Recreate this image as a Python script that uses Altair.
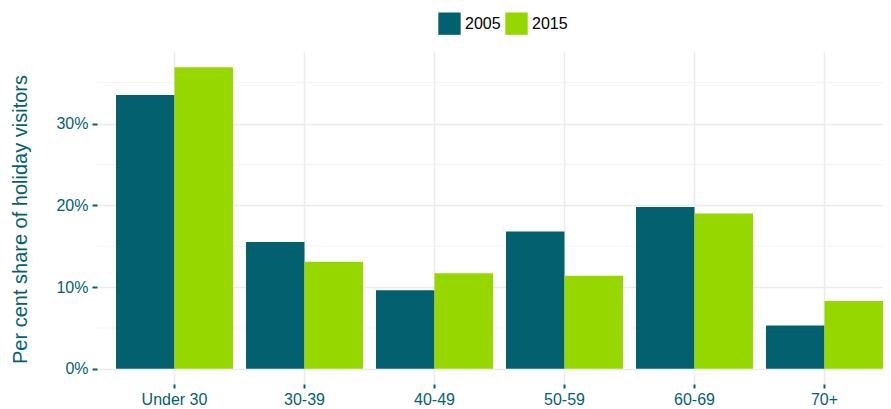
import altair as alt
import pandas as pd

age_groups = ["Under 30", "30-39", "40-49", "50-59", "60-69", "70+"]
share_2005 = [33.5, 15.5, 9.6, 16.8, 19.8, 5.3]
share_2015 = [36.9, 13.1, 11.7, 11.4, 19.0, 8.3]
years = ["2005", "2015"]
y_major = [0, 10, 20, 30]
y_minor = [5, 15, 25, 35]

TEAL = "#03616F"
GREEN = "#97D700"
FONT = "Liberation Sans"

rows = []
for i, a in enumerate(age_groups):
    rows.append({"age": a, "year": years[0], "share": share_2005[i]})
    rows.append({"age": a, "year": years[1], "share": share_2015[i]})
df = pd.DataFrame(rows)

y_scale = alt.Scale(domain=[-1.85, 38.75], nice=False, zero=False)

y_axis = alt.Axis(
    values=y_major,
    labelExpr="datum.value + '%'",
    labelColor=TEAL,
    labelFont=FONT,
    labelFontSize=16,
    labelPadding=4,
    tickColor=TEAL,
    tickSize=5,
    tickWidth=2,
    domain=False,
    grid=True,
    gridColor="#EBEBEB",
    gridWidth=1.5,
    title="Per cent share of holiday visitors",
    titleColor=TEAL,
    titleFont=FONT,
    titleFontSize=20,
    titleFontWeight="normal",
    titleAngle=-90,
    titleBaseline="alphabetic",
    titleAlign="center",
    titleX=-70.5,
    titleY=167,
)

minor = alt.Chart(pd.DataFrame({"v": y_minor})).mark_rule(
    color="#F3F3F3", strokeWidth=1
).encode(y=alt.Y("v:Q", scale=y_scale, axis=y_axis))

bars = alt.Chart(df).mark_bar().encode(
    x=alt.X(
        "age:N",
        sort=age_groups,
        scale=alt.Scale(paddingInner=0.1, paddingOuter=0.073, align=1),
        axis=alt.Axis(
            title=None,
            labelAngle=0,
            labelColor=TEAL,
            labelFont=FONT,
            labelFontSize=16,
            labelPadding=3,
            tickColor=TEAL,
            tickSize=4,
            tickWidth=2,
            domain=False,
            grid=True,
            gridColor="#EBEBEB",
            gridWidth=1.5,
            bandPosition=0.5,
        ),
    ),
    xOffset=alt.XOffset("year:N", sort=years, scale=alt.Scale(paddingInner=0, paddingOuter=0)),
    y=alt.Y("share:Q", scale=y_scale, axis=y_axis),
    y2=alt.datum(0),
    color=alt.Color(
        "year:N",
        sort=years,
        scale=alt.Scale(domain=years, range=[TEAL, GREEN]),
        legend=alt.Legend(
            title=None,
            orient="none",
            legendX=341,
            legendY=-40,
            direction="horizontal",
            symbolType="square",
            symbolSize=500,
            symbolStrokeWidth=0,
            symbolOpacity=1,
            labelFont=FONT,
            labelFontSize=16,
            labelColor="black",
            labelOffset=4,
            columnPadding=4,
            padding=0,
        ),
    ),
)

chart = alt.layer(minor, bars).properties(
    width=786,
    height=332,
    autosize=alt.AutoSizeParams(type="none"),
    padding={"left": 89, "top": 44, "right": 0, "bottom": 26},
).configure_view(stroke=None)

chart.save("out.html", embed_options={"renderer": "svg", "actions": False})
